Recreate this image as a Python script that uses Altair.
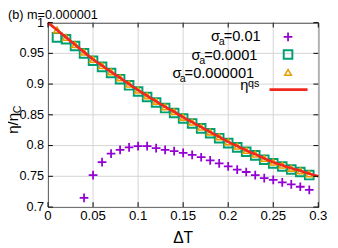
import altair as alt
import pandas as pd

FONT = "Liberation Sans"

# ---------------- data ----------------
dT_line = [0.00, 0.01, 0.02, 0.03, 0.04, 0.05, 0.06, 0.07, 0.08, 0.09, 0.10,
           0.11, 0.12, 0.13, 0.14, 0.15, 0.16, 0.17, 0.18, 0.19, 0.20,
           0.21, 0.22, 0.23, 0.24, 0.25, 0.26, 0.27, 0.28, 0.29, 0.30]
eta_qs = [1.000, 0.988, 0.976, 0.964, 0.952, 0.940, 0.930, 0.920, 0.910, 0.900, 0.890,
          0.881, 0.872, 0.863, 0.855, 0.846, 0.838, 0.830, 0.822, 0.814, 0.806,
          0.799, 0.792, 0.786, 0.779, 0.773, 0.768, 0.763, 0.759, 0.754, 0.750]

dT_sym = [0.01, 0.02, 0.03, 0.04, 0.05, 0.06, 0.07, 0.08, 0.09, 0.10,
          0.11, 0.12, 0.13, 0.14, 0.15, 0.16, 0.17, 0.18, 0.19, 0.20,
          0.21, 0.22, 0.23, 0.24, 0.25, 0.26, 0.27, 0.28, 0.29]
eta_s1e4 = [0.976, 0.973, 0.962, 0.950, 0.938, 0.928, 0.918, 0.908, 0.898, 0.888,
            0.879, 0.870, 0.861, 0.853, 0.844, 0.836, 0.828, 0.820, 0.812, 0.804,
            0.797, 0.790, 0.784, 0.777, 0.771, 0.766, 0.761, 0.757, 0.752]
eta_s1e6 = [0.988, 0.976, 0.964, 0.952, 0.940, 0.930, 0.920, 0.910, 0.900, 0.890,
            0.881, 0.872, 0.863, 0.855, 0.846, 0.838, 0.830, 0.822, 0.814, 0.806,
            0.799, 0.792, 0.786, 0.779, 0.773, 0.768, 0.763, 0.759, 0.754]

dT_s1e2 = [0.04, 0.05, 0.06, 0.07, 0.08, 0.09, 0.10, 0.11, 0.12, 0.13,
           0.14, 0.15, 0.16, 0.17, 0.18, 0.19, 0.20, 0.21, 0.22, 0.23,
           0.24, 0.25, 0.26, 0.27, 0.28, 0.29]
eta_s1e2 = [0.715, 0.752, 0.773, 0.787, 0.793, 0.797, 0.799, 0.799, 0.796, 0.793,
            0.791, 0.788, 0.785, 0.781, 0.776, 0.771, 0.766, 0.761, 0.757, 0.752,
            0.747, 0.744, 0.740, 0.737, 0.733, 0.728]

x_ticks = [0, 0.05, 0.1, 0.15, 0.2, 0.25, 0.3]
x_tick_labels = ["0", "0.05", "0.1", "0.15", "0.2", "0.25", "0.3"]
y_ticks = [0.7, 0.75, 0.8, 0.85, 0.9, 0.95, 1.0]
y_tick_labels = ["0.7", "0.75", "0.8", "0.85", "0.9", "0.95", "1"]

panel_title = "(b)\u00a0m=0.000001"
x_title = "ΔT"
y_title_main = "η/η"
y_title_sub = "C"
legend_sigma = "σ"
legend_sub = "a"
legend_values = ["=0.01", "=0.0001", "=0.000001"]
legend_eta = "η"
legend_eta_sup = "qs"

C_PURPLE = "#9400d3"
C_GREEN = "#009e73"
C_ORANGE = "#e69f00"
C_RED = "#f0281e"
C_GRID = "#d4d4d4"

W, H = 277, 189

xs = alt.Scale(domain=[0, 0.3], nice=False, zero=False)
ys = alt.Scale(domain=[0.7, 1.0], nice=False, zero=False)

df_line = pd.DataFrame({"x": dT_line, "y": eta_qs})
df_s4 = pd.DataFrame({"x": dT_sym, "y": eta_s1e4})
df_s6 = pd.DataFrame({"x": dT_sym, "y": eta_s1e6})
df_s2 = pd.DataFrame({"x": dT_s1e2, "y": eta_s1e2})
df_xt = pd.DataFrame({"v": x_ticks, "lab": x_tick_labels})
df_yt = pd.DataFrame({"v": y_ticks, "lab": y_tick_labels})

CROSS = "M-1,0L1,0M0,-1L0,1"


def X(f):
    return alt.X(f, type="quantitative", scale=xs, axis=None)


def Y(f):
    return alt.Y(f, type="quantitative", scale=ys, axis=None)


# grid
grid_layers = [
    alt.Chart(df_xt).mark_rule(color=C_GRID, strokeWidth=1).encode(
        x=X("v"), y=alt.value(0), y2=alt.value(H)),
    alt.Chart(df_yt).mark_rule(color=C_GRID, strokeWidth=1).encode(
        y=Y("v"), x=alt.value(0), x2=alt.value(W)),
]

purple = alt.Chart(df_s2).mark_point(shape=CROSS, filled=False, size=80, strokeWidth=1.8,
                                     color=C_PURPLE, opacity=1).encode(x=X("x"), y=Y("y"))
green = alt.Chart(df_s4).mark_point(shape="square", filled=False, size=78, strokeWidth=2,
                                    color=C_GREEN, opacity=1).encode(x=X("x"), y=Y("y"))
orange = alt.Chart(df_s6).mark_point(shape="triangle-up", filled=False, size=45, strokeWidth=1.6,
                                     color=C_ORANGE, opacity=1).encode(x=X("x"), y=Y("y"))
red = alt.Chart(df_line).mark_line(color=C_RED, strokeWidth=2.7).encode(x=X("x"), y=Y("y"))

# inward ticks on all four sides
TL = 5
tick_layers = [
    alt.Chart(df_xt).mark_rule(color="black", strokeWidth=1).encode(
        x=X("v"), y=alt.value(H), y2=alt.value(H - TL)),
    alt.Chart(df_xt).mark_rule(color="black", strokeWidth=1).encode(
        x=X("v"), y=alt.value(0), y2=alt.value(TL)),
    alt.Chart(df_yt).mark_rule(color="black", strokeWidth=1).encode(
        y=Y("v"), x=alt.value(0), x2=alt.value(TL)),
    alt.Chart(df_yt).mark_rule(color="black", strokeWidth=1).encode(
        y=Y("v"), x=alt.value(W), x2=alt.value(W - TL)),
]

# tick labels
label_layers = [
    alt.Chart(df_xt).mark_text(font=FONT, fontSize=13.5, color="black", align="center",
                               baseline="alphabetic").encode(
        x=X("v"), y=alt.value(H + 13), text="lab:N"),
    alt.Chart(df_yt).mark_text(font=FONT, fontSize=13, color="black", align="right",
                               baseline="middle").encode(
        y=Y("v"), x=alt.value(-4), text="lab:N"),
]


def txt(s, px, py, size, align="left", angle=0):
    return alt.Chart(pd.DataFrame({"t": [s]})).mark_text(
        align=align, baseline="alphabetic", font=FONT, fontSize=size, color="black",
        angle=angle).encode(text="t:N", x=alt.value(px), y=alt.value(py))


text_layers = [txt(panel_title, -41, -4, 13)]

# axis titles
text_layers.append(txt(x_title, W / 2, H + 37, 16, align="center"))
text_layers.append(txt(y_title_main, -30.5, 114, 15.5, angle=270))
text_layers.append(txt(y_title_sub, -27.5, 93, 11, angle=270))

# legend text
sig_x = [167, 147, 127.7]
sub_x = [175.0, 155.0, 135.0]
val_x = [180.0, 160.0, 140.0]
row_y = [19.3, 38.7, 57.0]
for i in range(3):
    text_layers.append(txt(legend_sigma, sig_x[i], row_y[i], 15))
    text_layers.append(txt(legend_sub, sub_x[i], row_y[i] + 3.4, 11))
    text_layers.append(txt(legend_values[i], val_x[i], row_y[i], 15))
text_layers.append(txt(legend_eta, 197, 69, 15))
text_layers.append(txt(legend_eta_sup, 205, 65.5, 11))

dummy = pd.DataFrame({"k": [0]})
SX = 246
leg_syms = [
    alt.Chart(dummy).mark_point(shape=CROSS, filled=False, size=80, strokeWidth=1.8,
                                color=C_PURPLE, opacity=1).encode(x=alt.value(SX), y=alt.value(14.7)),
    alt.Chart(dummy).mark_point(shape="square", filled=False, size=78, strokeWidth=2,
                                color=C_GREEN, opacity=1).encode(x=alt.value(SX), y=alt.value(32.7)),
    alt.Chart(dummy).mark_point(shape="triangle-up", filled=False, size=45, strokeWidth=1.6,
                                color=C_ORANGE, opacity=1).encode(x=alt.value(SX), y=alt.value(51)),
    alt.Chart(dummy).mark_rule(color=C_RED, strokeWidth=2.7).encode(
        x=alt.value(227), x2=alt.value(266), y=alt.value(68.7)),
]

chart = alt.layer(*grid_layers, purple, green, orange, red, *tick_layers, *label_layers,
                  *leg_syms, *text_layers).properties(
    width=W, height=H,
    autosize=alt.AutoSizeParams(type="none"),
    padding={"left": 41, "top": 12, "right": 12, "bottom": 39},
).configure_view(
    stroke="black", strokeWidth=1
)

chart.save("out.html", embed_options={"renderer": "svg", "actions": False})
